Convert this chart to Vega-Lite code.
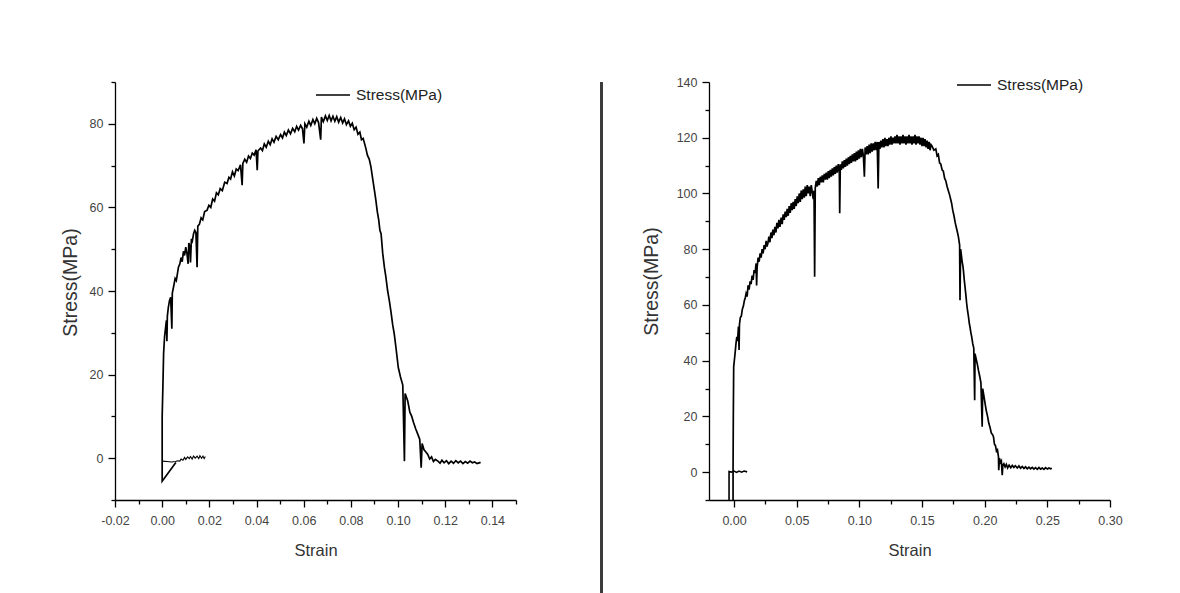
{
  "$schema": "https://vega.github.io/schema/vega-lite/v6.json",
  "background": "white",
  "padding": {"left": 60, "top": 67, "right": 0, "bottom": 0},
  "config": {"view": {"stroke": null}},
  "datasets": {
    "leftPre": [
      {"strain":0.0,"stress":-0.7},{"strain":0.002,"stress":-0.8},{"strain":0.004,"stress":-0.9},{"strain":0.0057,"stress":-0.8},{"strain":0.0065,"stress":-0.6},{"strain":0.0075,"stress":-0.7},{"strain":0.008,"stress":-0.2},{"strain":0.0088,"stress":-0.5},{"strain":0.0095,"stress":0.2},{"strain":0.010,"stress":-0.3},{"strain":0.0108,"stress":0.3},{"strain":0.0115,"stress":-0.1},{"strain":0.012,"stress":0.4},{"strain":0.0127,"stress":-0.2},{"strain":0.0133,"stress":0.5},{"strain":0.014,"stress":0.0},{"strain":0.0148,"stress":0.5},{"strain":0.0155,"stress":-0.1},{"strain":0.016,"stress":0.6},{"strain":0.0167,"stress":0.0},{"strain":0.0173,"stress":0.5},{"strain":0.0178,"stress":-0.1},{"strain":0.0183,"stress":0.4}
    ],
    "leftMain": [
      {"strain":0.0058,"stress":-1.0},{"strain":0.0,"stress":-5.5},{"strain":0.0,"stress":10},{"strain":0.0003,"stress":17},{"strain":0.0006,"stress":25},{"strain":0.0010,"stress":29},{"strain":0.0014,"stress":31},{"strain":0.0018,"stress":33},{"strain":0.0020,"stress":28},{"strain":0.0022,"stress":34},{"strain":0.0026,"stress":36},{"strain":0.0031,"stress":37.7},{"strain":0.0036,"stress":38.5},{"strain":0.0041,"stress":31},{"strain":0.0043,"stress":39.5},{"strain":0.0050,"stress":41.5},{"strain":0.0055,"stress":43},{"strain":0.0060,"stress":42.5},{"strain":0.0069,"stress":45.7},{"strain":0.0075,"stress":46.5},{"strain":0.0080,"stress":48},{"strain":0.0085,"stress":47},{"strain":0.0090,"stress":49.5},{"strain":0.0095,"stress":48.5},{"strain":0.0100,"stress":50.5},{"strain":0.0105,"stress":49},{"strain":0.0110,"stress":46.5},{"strain":0.0113,"stress":51.5},{"strain":0.0118,"stress":50.5},{"strain":0.0120,"stress":46.8},{"strain":0.0124,"stress":52.5},{"strain":0.0128,"stress":52},{"strain":0.0133,"stress":53.7},{"strain":0.0138,"stress":54.5},{"strain":0.0143,"stress":54},{"strain":0.0148,"stress":45.7},{"strain":0.0151,"stress":55.5},{"strain":0.0158,"stress":56},{"strain":0.0165,"stress":57.5},{"strain":0.0172,"stress":57},{"strain":0.0180,"stress":59},{"strain":0.0190,"stress":59.3},{"strain":0.0198,"stress":60.5},{"strain":0.0206,"stress":60},{"strain":0.0214,"stress":62},{"strain":0.0222,"stress":61.5},{"strain":0.0230,"stress":63.5},{"strain":0.0238,"stress":63},{"strain":0.0246,"stress":64.5},{"strain":0.0255,"stress":64},{"strain":0.0265,"stress":66},{"strain":0.0275,"stress":65.7},{"strain":0.0283,"stress":67.2},{"strain":0.0290,"stress":66.8},{"strain":0.0298,"stress":68.5},{"strain":0.0306,"stress":67.5},{"strain":0.0314,"stress":69.2},{"strain":0.0322,"stress":68.8},{"strain":0.0332,"stress":70.2},{"strain":0.0339,"stress":65.3},{"strain":0.0342,"stress":70.5},{"strain":0.0350,"stress":71.5},{"strain":0.0358,"stress":70.8},{"strain":0.0366,"stress":72.3},{"strain":0.0374,"stress":71.7},{"strain":0.0382,"stress":73},{"strain":0.0390,"stress":72.5},{"strain":0.0398,"stress":73.8},{"strain":0.0403,"stress":68.9},{"strain":0.0406,"stress":73.5},{"strain":0.0417,"stress":74.2},{"strain":0.0425,"stress":73.6},{"strain":0.0433,"stress":75.2},{"strain":0.0441,"stress":74.4},{"strain":0.0450,"stress":75.8},{"strain":0.0458,"stress":75},{"strain":0.0466,"stress":76.4},{"strain":0.0474,"stress":75.6},{"strain":0.0483,"stress":77},{"strain":0.0492,"stress":76.2},{"strain":0.0502,"stress":77.4},{"strain":0.0510,"stress":76.6},{"strain":0.0518,"stress":78},{"strain":0.0526,"stress":77.2},{"strain":0.0535,"stress":78.5},{"strain":0.0544,"stress":77.6},{"strain":0.0553,"stress":78.9},{"strain":0.0562,"stress":78.1},{"strain":0.0570,"stress":79.4},{"strain":0.0578,"stress":78.5},{"strain":0.0587,"stress":79.6},{"strain":0.0595,"stress":78.8},{"strain":0.0601,"stress":75.3},{"strain":0.0605,"stress":80},{"strain":0.0613,"stress":79.2},{"strain":0.0622,"stress":80.6},{"strain":0.0630,"stress":79.6},{"strain":0.0639,"stress":81},{"strain":0.0647,"stress":80},{"strain":0.0655,"stress":81.3},{"strain":0.0663,"stress":80.3},{"strain":0.0672,"stress":76.2},{"strain":0.0675,"stress":81.6},{"strain":0.0683,"stress":80.5},{"strain":0.0692,"stress":81.9},{"strain":0.0700,"stress":80.8},{"strain":0.0708,"stress":82},{"strain":0.0716,"stress":80.7},{"strain":0.0724,"stress":81.8},{"strain":0.0732,"stress":80.6},{"strain":0.0740,"stress":81.7},{"strain":0.0748,"stress":80.4},{"strain":0.0757,"stress":81.5},{"strain":0.0765,"stress":80.2},{"strain":0.0773,"stress":81.2},{"strain":0.0781,"stress":79.8},{"strain":0.0790,"stress":80.7},{"strain":0.0798,"stress":79.4},{"strain":0.0806,"stress":80.1},{"strain":0.0814,"stress":78.6},{"strain":0.0822,"stress":79.2},{"strain":0.0830,"stress":77.5},{"strain":0.0838,"stress":78},{"strain":0.0845,"stress":76.2},{"strain":0.0852,"stress":76.5},{"strain":0.0857,"stress":75.5},{"strain":0.0864,"stress":74},{"strain":0.0870,"stress":72.5},{"strain":0.0878,"stress":71.5},{"strain":0.0885,"stress":69.7},{"strain":0.0892,"stress":67},{"strain":0.0900,"stress":64},{"strain":0.0906,"stress":61.7},{"strain":0.0912,"stress":59},{"strain":0.0918,"stress":57},{"strain":0.0923,"stress":54.5},{"strain":0.0928,"stress":53.7},{"strain":0.0935,"stress":49},{"strain":0.0942,"stress":45.7},{"strain":0.0948,"stress":43.5},{"strain":0.0956,"stress":40},{"strain":0.0963,"stress":37.7},{"strain":0.0970,"stress":35},{"strain":0.0977,"stress":32},{"strain":0.0984,"stress":29.7},{"strain":0.0992,"stress":26},{"strain":0.1001,"stress":21.7},{"strain":0.1010,"stress":19.5},{"strain":0.1020,"stress":17.5},{"strain":0.1027,"stress":-0.7},{"strain":0.1030,"stress":15.5},{"strain":0.1041,"stress":13.7},{"strain":0.1050,"stress":11},{"strain":0.1058,"stress":10},{"strain":0.1066,"stress":8.5},{"strain":0.1075,"stress":7},{"strain":0.1084,"stress":5.7},{"strain":0.1092,"stress":4.5},{"strain":0.1098,"stress":-2.3},{"strain":0.1102,"stress":3.5},{"strain":0.1110,"stress":2},{"strain":0.1118,"stress":1.5},{"strain":0.1126,"stress":0.9},{"strain":0.1134,"stress":-0.2},{"strain":0.1142,"stress":0.3},{"strain":0.1150,"stress":-0.8},{"strain":0.1158,"stress":-0.3},{"strain":0.1169,"stress":-0.7},{"strain":0.1178,"stress":-1.2},{"strain":0.1186,"stress":-0.5},{"strain":0.1195,"stress":-1.1},{"strain":0.1205,"stress":-0.6},{"strain":0.1215,"stress":-1.3},{"strain":0.1225,"stress":-0.7},{"strain":0.1235,"stress":-1.2},{"strain":0.1245,"stress":-0.6},{"strain":0.1255,"stress":-1.1},{"strain":0.1265,"stress":-0.7},{"strain":0.1275,"stress":-1.3},{"strain":0.1285,"stress":-0.8},{"strain":0.1295,"stress":-1.2},{"strain":0.1305,"stress":-0.7},{"strain":0.1315,"stress":-1.1},{"strain":0.1325,"stress":-0.9},{"strain":0.1335,"stress":-1.3},{"strain":0.1350,"stress":-1.0}
    ],
    "rightPre": [
      {"strain":-0.004,"stress":-10},{"strain":-0.004,"stress":0.2},{"strain":-0.002,"stress":0.0},{"strain":0.0,"stress":0.4},{"strain":0.002,"stress":-0.1},{"strain":0.004,"stress":0.4},{"strain":0.006,"stress":0.0},{"strain":0.008,"stress":0.4},{"strain":0.0104,"stress":0.1}
    ],
    "rightMain": [
      {"strain":-0.0008,"stress":-10},{"strain":-0.0008,"stress":0},{"strain":-0.0006,"stress":20},{"strain":-0.0003,"stress":37.8},{"strain":0.0008,"stress":42.6},{"strain":0.0015,"stress":46},{"strain":0.0022,"stress":48.5},{"strain":0.0028,"stress":47},{"strain":0.0035,"stress":52.2},{"strain":0.0040,"stress":43.8},{"strain":0.0043,"stress":53},{"strain":0.0050,"stress":55.5},{"strain":0.0058,"stress":56},{"strain":0.0066,"stress":58.5},{"strain":0.0074,"stress":59.5},{"strain":0.0082,"stress":61.5},{"strain":0.0089,"stress":62.5},{"strain":0.0096,"stress":64.1},{"strain":0.0104,"stress":63},{"strain":0.0112,"stress":67},{"strain":0.0120,"stress":65.5},{"strain":0.0128,"stress":68.5},{"strain":0.0136,"stress":67.5},{"strain":0.0144,"stress":70.5},{"strain":0.0152,"stress":69},{"strain":0.0160,"stress":72.5},{"strain":0.0168,"stress":71.5},{"strain":0.0176,"stress":74.9},{"strain":0.0180,"stress":67},{"strain":0.0184,"stress":73.5},{"strain":0.0192,"stress":77},{"strain":0.0200,"stress":75.5},{"strain":0.0208,"stress":78.5},{"strain":0.0216,"stress":77},{"strain":0.0224,"stress":80},{"strain":0.0232,"stress":78.5},{"strain":0.0240,"stress":81.5},{"strain":0.0248,"stress":80},{"strain":0.0256,"stress":83},{"strain":0.0263,"stress":81},{"strain":0.0270,"stress":82.1},{"strain":0.0278,"stress":84.5},{"strain":0.0286,"stress":82.5},{"strain":0.0294,"stress":86},{"strain":0.0302,"stress":84},{"strain":0.0310,"stress":87},{"strain":0.0318,"stress":85},{"strain":0.0326,"stress":88},{"strain":0.0334,"stress":86},{"strain":0.0342,"stress":89.5},{"strain":0.0350,"stress":87.5},{"strain":0.0358,"stress":90.5},{"strain":0.0366,"stress":88},{"strain":0.0376,"stress":91.3},{"strain":0.0384,"stress":89},{"strain":0.0392,"stress":92.5},{"strain":0.0400,"stress":90.5},{"strain":0.0408,"stress":93.5},{"strain":0.0416,"stress":91.5},{"strain":0.0424,"stress":94.5},{"strain":0.0432,"stress":92},{"strain":0.0440,"stress":95.5},{"strain":0.0448,"stress":93},{"strain":0.0456,"stress":96.5},{"strain":0.0464,"stress":94},{"strain":0.0472,"stress":97},{"strain":0.0480,"stress":94.5},{"strain":0.0488,"stress":98},{"strain":0.0496,"stress":95.5},{"strain":0.0504,"stress":99},{"strain":0.0512,"stress":96.5},{"strain":0.0520,"stress":100},{"strain":0.0528,"stress":97},{"strain":0.0536,"stress":101},{"strain":0.0544,"stress":98},{"strain":0.0552,"stress":101.5},{"strain":0.0560,"stress":98.5},{"strain":0.0568,"stress":102.5},{"strain":0.0576,"stress":99},{"strain":0.0584,"stress":103},{"strain":0.0592,"stress":100},{"strain":0.0600,"stress":102.5},{"strain":0.0608,"stress":99},{"strain":0.0616,"stress":103},{"strain":0.0624,"stress":100.5},{"strain":0.0632,"stress":98},{"strain":0.0638,"stress":101},{"strain":0.0643,"stress":70.1},{"strain":0.0648,"stress":102},{"strain":0.0656,"stress":104.5},{"strain":0.0664,"stress":102.5},{"strain":0.0672,"stress":105.5},{"strain":0.0680,"stress":103},{"strain":0.0688,"stress":106},{"strain":0.0696,"stress":104},{"strain":0.0704,"stress":106.5},{"strain":0.0712,"stress":104},{"strain":0.0720,"stress":107},{"strain":0.0728,"stress":105},{"strain":0.0736,"stress":107.5},{"strain":0.0744,"stress":105},{"strain":0.0752,"stress":108},{"strain":0.0760,"stress":105.5},{"strain":0.0768,"stress":108.5},{"strain":0.0776,"stress":106},{"strain":0.0784,"stress":109},{"strain":0.0792,"stress":106.5},{"strain":0.0800,"stress":109.5},{"strain":0.0808,"stress":107},{"strain":0.0816,"stress":110},{"strain":0.0824,"stress":107.5},{"strain":0.0832,"stress":110.5},{"strain":0.0840,"stress":108},{"strain":0.0843,"stress":92.9},{"strain":0.0848,"stress":110.5},{"strain":0.0856,"stress":108.5},{"strain":0.0864,"stress":111.5},{"strain":0.0872,"stress":109},{"strain":0.0880,"stress":112},{"strain":0.0888,"stress":109.5},{"strain":0.0896,"stress":112.5},{"strain":0.0904,"stress":110},{"strain":0.0912,"stress":113},{"strain":0.0920,"stress":110.5},{"strain":0.0928,"stress":113.5},{"strain":0.0936,"stress":111},{"strain":0.0944,"stress":114},{"strain":0.0952,"stress":111.5},{"strain":0.0960,"stress":114.5},{"strain":0.0968,"stress":111.5},{"strain":0.0976,"stress":115},{"strain":0.0984,"stress":112},{"strain":0.0992,"stress":115.5},{"strain":0.1000,"stress":112.5},{"strain":0.1008,"stress":116},{"strain":0.1016,"stress":113},{"strain":0.1024,"stress":116},{"strain":0.1032,"stress":113.5},{"strain":0.1040,"stress":106},{"strain":0.1046,"stress":116.5},{"strain":0.1054,"stress":114},{"strain":0.1062,"stress":117},{"strain":0.1070,"stress":114},{"strain":0.1078,"stress":117.5},{"strain":0.1086,"stress":114.5},{"strain":0.1094,"stress":118},{"strain":0.1102,"stress":115},{"strain":0.1110,"stress":118},{"strain":0.1118,"stress":115.5},{"strain":0.1126,"stress":118.5},{"strain":0.1134,"stress":115.5},{"strain":0.1142,"stress":118.5},{"strain":0.1150,"stress":101.8},{"strain":0.1156,"stress":118.5},{"strain":0.1164,"stress":116},{"strain":0.1172,"stress":119},{"strain":0.1180,"stress":116.5},{"strain":0.1188,"stress":119.5},{"strain":0.1196,"stress":116.5},{"strain":0.1204,"stress":120},{"strain":0.1212,"stress":117},{"strain":0.1220,"stress":119.5},{"strain":0.1228,"stress":117},{"strain":0.1236,"stress":120},{"strain":0.1244,"stress":117.5},{"strain":0.1252,"stress":120.5},{"strain":0.1260,"stress":117.5},{"strain":0.1268,"stress":120},{"strain":0.1276,"stress":118},{"strain":0.1284,"stress":120.5},{"strain":0.1292,"stress":118},{"strain":0.1300,"stress":121},{"strain":0.1308,"stress":118},{"strain":0.1316,"stress":120.5},{"strain":0.1324,"stress":117.5},{"strain":0.1332,"stress":120.5},{"strain":0.1340,"stress":118},{"strain":0.1348,"stress":121},{"strain":0.1356,"stress":118},{"strain":0.1364,"stress":120.5},{"strain":0.1372,"stress":117.5},{"strain":0.1380,"stress":120.5},{"strain":0.1388,"stress":118},{"strain":0.1396,"stress":121},{"strain":0.1404,"stress":118},{"strain":0.1412,"stress":120.5},{"strain":0.1420,"stress":117.5},{"strain":0.1428,"stress":120.5},{"strain":0.1436,"stress":118},{"strain":0.1444,"stress":121},{"strain":0.1452,"stress":117.5},{"strain":0.1460,"stress":120.5},{"strain":0.1468,"stress":118},{"strain":0.1476,"stress":120.5},{"strain":0.1484,"stress":117.5},{"strain":0.1492,"stress":120},{"strain":0.1500,"stress":117},{"strain":0.1508,"stress":120},{"strain":0.1516,"stress":117},{"strain":0.1524,"stress":119.5},{"strain":0.1532,"stress":116.5},{"strain":0.1540,"stress":119},{"strain":0.1548,"stress":116},{"strain":0.1556,"stress":118.5},{"strain":0.1564,"stress":115.5},{"strain":0.1572,"stress":117.5},{"strain":0.1580,"stress":117},{"strain":0.1595,"stress":115.5},{"strain":0.1610,"stress":116},{"strain":0.1620,"stress":113.5},{"strain":0.1630,"stress":114},{"strain":0.1640,"stress":111},{"strain":0.1650,"stress":110.5},{"strain":0.1660,"stress":108.5},{"strain":0.1670,"stress":108},{"strain":0.1680,"stress":105.5},{"strain":0.1690,"stress":104.5},{"strain":0.1700,"stress":102.5},{"strain":0.1710,"stress":101},{"strain":0.1720,"stress":99.5},{"strain":0.1728,"stress":98},{"strain":0.1736,"stress":96.5},{"strain":0.1745,"stress":94},{"strain":0.1755,"stress":92},{"strain":0.1765,"stress":89.5},{"strain":0.1775,"stress":87.5},{"strain":0.1783,"stress":86},{"strain":0.1790,"stress":84.5},{"strain":0.1800,"stress":81.5},{"strain":0.1803,"stress":61.7},{"strain":0.1808,"stress":80},{"strain":0.1815,"stress":77.5},{"strain":0.1820,"stress":75.5},{"strain":0.1826,"stress":74},{"strain":0.1830,"stress":72.5},{"strain":0.1837,"stress":69},{"strain":0.1843,"stress":66.5},{"strain":0.1850,"stress":63.5},{"strain":0.1856,"stress":60.6},{"strain":0.1863,"stress":58},{"strain":0.1870,"stress":56},{"strain":0.1877,"stress":53.5},{"strain":0.1883,"stress":52},{"strain":0.1890,"stress":50},{"strain":0.1896,"stress":48.6},{"strain":0.1905,"stress":46},{"strain":0.1913,"stress":44.5},{"strain":0.1920,"stress":25.8},{"strain":0.1923,"stress":42.5},{"strain":0.1930,"stress":41},{"strain":0.1940,"stress":39},{"strain":0.1950,"stress":36.6},{"strain":0.1960,"stress":34.5},{"strain":0.1970,"stress":32},{"strain":0.1980,"stress":16.3},{"strain":0.1984,"stress":30},{"strain":0.1993,"stress":27.5},{"strain":0.2003,"stress":24.7},{"strain":0.2013,"stress":22},{"strain":0.2023,"stress":20},{"strain":0.2033,"stress":17.5},{"strain":0.2043,"stress":16},{"strain":0.2053,"stress":14},{"strain":0.2062,"stress":13.5},{"strain":0.2070,"stress":12.7},{"strain":0.2078,"stress":10},{"strain":0.2086,"stress":9.5},{"strain":0.2094,"stress":7.5},{"strain":0.2102,"stress":8},{"strain":0.2110,"stress":5.5},{"strain":0.2112,"stress":0.7},{"strain":0.2118,"stress":5},{"strain":0.2126,"stress":3.5},{"strain":0.2133,"stress":4},{"strain":0.2140,"stress":-1.1},{"strain":0.2145,"stress":2.5},{"strain":0.2153,"stress":3},{"strain":0.2163,"stress":1.9},{"strain":0.2173,"stress":2.8},{"strain":0.2183,"stress":1.5},{"strain":0.2195,"stress":2.5},{"strain":0.2208,"stress":1.6},{"strain":0.2220,"stress":2.4},{"strain":0.2233,"stress":1.7},{"strain":0.2245,"stress":2.3},{"strain":0.2260,"stress":1.5},{"strain":0.2273,"stress":2.2},{"strain":0.2286,"stress":1.4},{"strain":0.2300,"stress":2.0},{"strain":0.2313,"stress":1.3},{"strain":0.2326,"stress":1.9},{"strain":0.2340,"stress":1.2},{"strain":0.2353,"stress":1.8},{"strain":0.2366,"stress":1.2},{"strain":0.2380,"stress":1.7},{"strain":0.2393,"stress":1.1},{"strain":0.2406,"stress":1.6},{"strain":0.2420,"stress":1.0},{"strain":0.2433,"stress":1.7},{"strain":0.2446,"stress":1.1},{"strain":0.2460,"stress":1.5},{"strain":0.2473,"stress":1.0},{"strain":0.2486,"stress":1.6},{"strain":0.2500,"stress":1.1},{"strain":0.2513,"stress":1.5},{"strain":0.2526,"stress":1.2},{"strain":0.2536,"stress":1.4}
    ]
  },
  "resolve": {"scale": {"color": "independent"}, "legend": {"color": "independent"}},
  "spacing": 38,
  "hconcat": [
    {
      "spacing": 83,
      "resolve": {"scale": {"color": "independent"}, "legend": {"color": "independent"}},
      "hconcat": [
        {
          "width": 401,
          "height": 418,
          "encoding": {
            "x": {"field": "strain", "type": "quantitative",
              "scale": {"domain": [-0.02, 0.15], "nice": false, "zero": false},
              "axis": {"title": "Strain", "grid": false,
                "values": [-0.02,-0.01,0,0.01,0.02,0.03,0.04,0.05,0.06,0.07,0.08,0.09,0.1,0.11,0.12,0.13,0.14,0.15],
                "labelExpr": "abs(round(datum.value*100)) % 2 == 1 ? '' : replace(format(datum.value, '.2f'), '−', '-')",
                "tickSize": {"condition": {"test": "abs(round(datum.value*100)) % 2 == 1", "value": 4}, "value": 7},
                "labelOverlap": false, "labelFlush": false,
                "domainColor": "black", "domainWidth": 1.3, "tickColor": "black", "tickWidth": 1.3,
                "labelFont": "Liberation Sans", "labelFontSize": 12.5, "labelColor": "#444", "labelPadding": 7,
                "titleFont": "Liberation Sans", "titleFontSize": 16.5, "titleFontWeight": "normal", "titleColor": "#333", "titlePadding": 16}},
            "y": {"field": "stress", "type": "quantitative",
              "scale": {"domain": [-10, 90], "nice": false, "zero": false},
              "axis": {"title": "Stress(MPa)", "grid": false,
                "values": [-10,0,10,20,30,40,50,60,70,80,90],
                "labelExpr": "abs(datum.value/10) % 2 == 1 ? '' : format(datum.value, 'd')",
                "tickSize": {"condition": {"test": "abs(datum.value/10) % 2 == 1", "value": 4}, "value": 7},
                "labelOverlap": false, "labelFlush": false,
                "domainColor": "black", "domainWidth": 1.3, "tickColor": "black", "tickWidth": 1.3,
                "labelFont": "Liberation Sans", "labelFontSize": 12.5, "labelColor": "#444", "labelPadding": 5,
                "titleFont": "Liberation Sans", "titleFontSize": 19.5, "titleFontWeight": "normal", "titleColor": "#333", "titlePadding": 9, "titleY": 200}},
            "order": {"value": null}
          },
          "layer": [
            {"data": {"name": "leftPre"}, "mark": {"type": "line", "color": "black", "strokeWidth": 1.1}},
            {"data": {"name": "leftMain"}, "mark": {"type": "line", "strokeWidth": 1.7},
              "encoding": {"color": {"datum": "Stress(MPa)", "type": "nominal", "scale": {"range": ["black"]},
                "legend": {"orient": "none", "legendX": 200, "legendY": -5, "title": null, "padding": 0,
                  "symbolType": "stroke", "symbolSize": 1156, "symbolStrokeWidth": 1.3, "symbolStrokeColor": "black",
                  "labelFont": "Liberation Sans", "labelFontSize": 15.5, "labelColor": "#222", "labelOffset": 5}}}}
          ]
        },
        {
          "width": 3,
          "height": 530,
          "data": {"values": [{}]},
          "mark": {"type": "rect", "color": "#3c3c3c"},
          "encoding": {}
        }
      ]
    },
    {
      "width": 401,
      "height": 418,
      "encoding": {
        "x": {"field": "strain", "type": "quantitative",
          "scale": {"domain": [-0.02, 0.30], "nice": false, "zero": false},
          "axis": {"title": "Strain", "grid": false,
            "values": [0,0.025,0.05,0.075,0.1,0.125,0.15,0.175,0.2,0.225,0.25,0.275,0.3],
            "labelExpr": "round(datum.value*40) % 2 == 1 ? '' : format(datum.value, '.2f')",
            "tickSize": {"condition": {"test": "round(datum.value*40) % 2 == 1", "value": 4}, "value": 7},
            "labelOverlap": false, "labelFlush": false,
            "domainColor": "black", "domainWidth": 1.3, "tickColor": "black", "tickWidth": 1.3,
            "labelFont": "Liberation Sans", "labelFontSize": 12.5, "labelColor": "#444", "labelPadding": 7,
            "titleFont": "Liberation Sans", "titleFontSize": 16.5, "titleFontWeight": "normal", "titleColor": "#333", "titlePadding": 16}},
        "y": {"field": "stress", "type": "quantitative",
          "scale": {"domain": [-10, 140], "nice": false, "zero": false},
          "axis": {"title": "Stress(MPa)", "grid": false,
            "values": [-10,0,10,20,30,40,50,60,70,80,90,100,110,120,130,140],
            "labelExpr": "abs(datum.value/10) % 2 == 1 ? '' : format(datum.value, 'd')",
            "tickSize": {"condition": {"test": "abs(datum.value/10) % 2 == 1", "value": 4}, "value": 7},
            "labelOverlap": false, "labelFlush": false,
            "domainColor": "black", "domainWidth": 1.3, "tickColor": "black", "tickWidth": 1.3,
            "labelFont": "Liberation Sans", "labelFontSize": 12.5, "labelColor": "#444", "labelPadding": 5,
            "titleFont": "Liberation Sans", "titleFontSize": 19.5, "titleFontWeight": "normal", "titleColor": "#333", "titlePadding": 15, "titleY": 199}},
        "order": {"value": null}
      },
      "layer": [
        {"data": {"name": "rightPre"}, "mark": {"type": "line", "color": "black", "strokeWidth": 1.6}},
        {"data": {"name": "rightMain"}, "mark": {"type": "line", "strokeWidth": 1.7},
          "encoding": {"color": {"datum": "Stress(MPa)", "type": "nominal", "scale": {"range": ["black"]},
            "legend": {"orient": "none", "legendX": 247, "legendY": -15, "title": null, "padding": 0,
              "symbolType": "stroke", "symbolSize": 1156, "symbolStrokeWidth": 1.3, "symbolStrokeColor": "black",
              "labelFont": "Liberation Sans", "labelFontSize": 15.5, "labelColor": "#222", "labelOffset": 5}}}}
      ]
    }
  ]
}
